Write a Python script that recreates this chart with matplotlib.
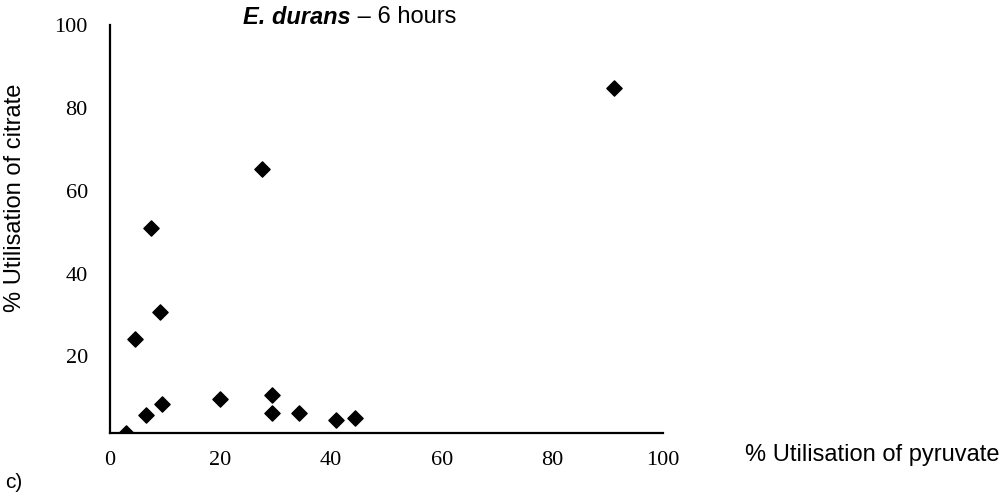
import numpy as np
import matplotlib
matplotlib.use('Agg')
import matplotlib.pyplot as plt

# % wykorzystania pirogronianu (x) i cytrynianu (y)
pyruvate = [2.9, 4.6, 6.5, 7.4, 9.1, 9.4, 19.9, 27.4, 29.3, 29.3, 34.2, 40.8, 44.3, 91.2]
citrate = [1.4, 24.2, 5.8, 50.9, 30.8, 8.5, 9.8, 65.2, 10.6, 6.4, 6.4, 4.6, 5.1, 84.9]

x_ticks = [0, 20, 40, 60, 80, 100]
y_ticks = [20, 40, 60, 80, 100]

fig = plt.figure(figsize=(10.04, 4.96), dpi=100)
ax = fig.add_axes([110/1004, 1 - 433/496, (663 - 110)/1004, (433 - 25)/496])

ax.scatter(pyruvate, citrate, marker='D', s=60, color='black', zorder=3)

ax.set_xlim(0, 100)
ax.set_ylim(1.5, 100)
ax.set_xticks(x_ticks)
ax.set_yticks(y_ticks)
ax.tick_params(axis='x', length=0, labelsize=16, pad=13)
ax.tick_params(axis='y', length=0, labelsize=16, pad=16)
for lab in ax.get_xticklabels() + ax.get_yticklabels():
    lab.set_family('Liberation Serif')

for s in ['top', 'right']:
    ax.spines[s].set_visible(False)
for s in ['left', 'bottom']:
    ax.spines[s].set_linewidth(1.6)
    ax.spines[s].set_color('black')

# opisy osi
fig.text(15/1004, 1 - 198/496, '% Utilisation of citrate', rotation=90,
         ha='center', va='center', family='Liberation Sans', fontsize=17)
fig.text(1000/1004, 1 - 455/496, '% Utilisation of pyruvate',
         ha='right', va='center', family='Liberation Sans', fontsize=17)

# tytul: czesc pogrubiona kursywa + reszta
t1 = fig.text(243/1004, 1 - 17/496, 'E. durans', ha='left', va='center',
              family='Liberation Sans', fontsize=17, weight='bold', style='italic')
fig.canvas.draw()
bb = t1.get_window_extent()
fig.text(bb.x1/1004, 1 - 17/496, ' – 6 hours', ha='left', va='center',
         family='Liberation Sans', fontsize=17)

fig.text(5/1004, 1 - 483/496, 'c)', ha='left', va='center',
         family='Liberation Sans', fontsize=15)

fig.savefig('out.png', dpi=100)
